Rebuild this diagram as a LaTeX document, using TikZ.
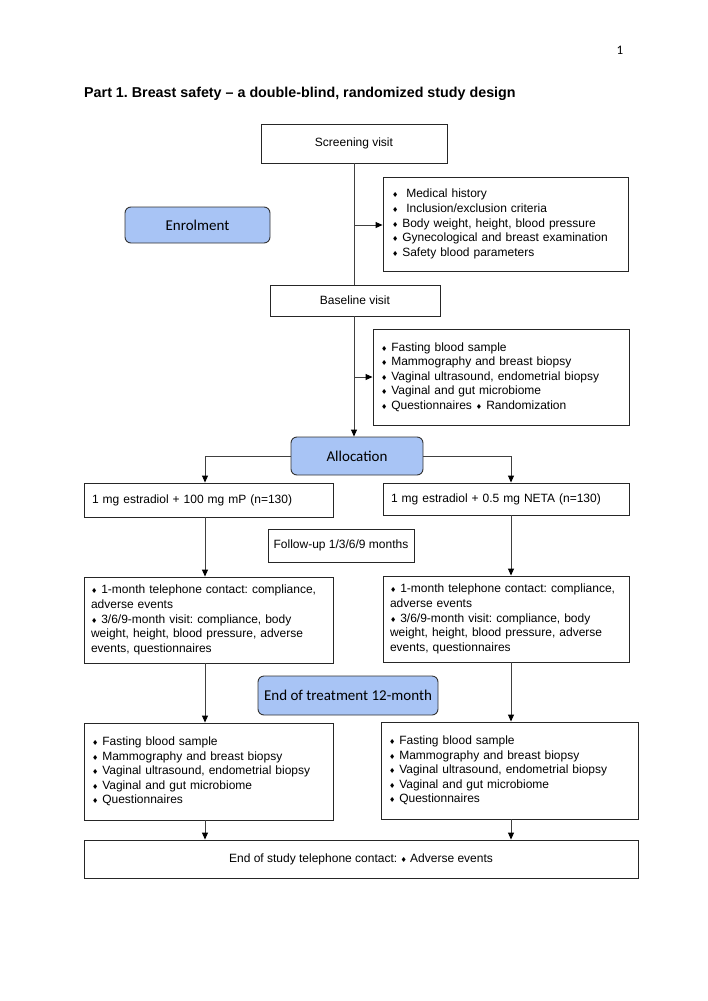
\documentclass[tikz,border=0pt]{standalone}
\usepackage{fontspec}
\setmainfont{Liberation Sans}
\newfontfamily\calib{Carlito}
\newfontfamily\djv{DejaVu Sans}
\usetikzlibrary{arrows.meta,calc}
\frenchspacing
\newcommand{\bul}{{\djv\fontsize{7}{7}\selectfont ♦}}
\definecolor{lblue}{RGB}{168,196,245}
\tikzset{
  box/.style={draw=black!85, line width=0.9pt, rectangle, inner sep=0pt, font=\fontsize{12}{14.6}\selectfont},
  lbl/.style={draw=black!80, line width=0.9pt, fill=lblue, rounded corners=6pt, inner sep=0pt, font=\calib\fontsize{15}{18}\selectfont},
  conn/.style={draw=black!75, line width=0.9pt},
  arr/.style={conn, -{Triangle[length=7pt,width=6pt,color=black]}}
}
\begin{document}
\begin{tikzpicture}[x=1pt,y=-1pt]
\useasboundingbox (0,0) rectangle (708,1001);
\node (pg) at (620,50) {\calib\fontsize{13}{15}\selectfont 1};
\node[anchor=west, inner sep=0pt, font=\bfseries\fontsize{14.3}{17}\selectfont] (title) at (84,94) {Part 1. Breast safety – a double-blind, randomized study design};

\node[box, minimum width=186pt, minimum height=39pt] (screen) at (354,143.5) {Screening visit};
\node[box, minimum width=245pt, minimum height=94pt, text width=227pt, align=left] (med) at (505.5,224) {\bul\ \ Medical history\\ \bul\ \ Inclusion/exclusion criteria\\ \bul\ Body weight, height, blood pressure\\ \bul\ Gynecological and breast examination\\ \bul\ Safety blood parameters};
\node[lbl, minimum width=145pt, minimum height=36pt] (enrol) at (197.5,225) {Enrolment};
\node[box, minimum width=170pt, minimum height=31pt] (base) at (355,300.5) {Baseline visit};
\node[box, minimum width=256pt, minimum height=96pt, text width=240pt, align=left] (fast1) at (501,377) {\bul\ Fasting blood sample\\ \bul\ Mammography and breast biopsy\\ \bul\ Vaginal ultrasound, endometrial biopsy\\ \bul\ Vaginal and gut microbiome\\ \bul\ Questionnaires \bul\ Randomization};
\node[lbl, minimum width=132pt, minimum height=38pt] (alloc) at (357,456) {Allocation};
\node[box, minimum width=249pt, minimum height=34pt, text width=233pt, align=left] (armL) at (208.5,500) {1 mg estradiol + 100 mg mP (n=130)};
\node[box, minimum width=246pt, minimum height=32pt, text width=230pt, align=left] (armR) at (506,499) {1 mg estradiol + 0.5 mg NETA (n=130)};
\node[box, minimum width=146pt, minimum height=33pt] (follow) at (341,545.5) {Follow-up 1/3/6/9 months};
\node[box, minimum width=249pt, minimum height=86pt, text width=235pt, align=left] (fuL) at (208.5,620) {\bul\ 1-month telephone contact: compliance, adverse events\\ \bul\ 3/6/9-month visit: compliance, body weight, height, blood pressure, adverse events, questionnaires};
\node[box, minimum width=246pt, minimum height=86pt, text width=232pt, align=left] (fuR) at (506,619) {\bul\ 1-month telephone contact: compliance, adverse events\\ \bul\ 3/6/9-month visit: compliance, body weight, height, blood pressure, adverse events, questionnaires};
\node[lbl, minimum width=180pt, minimum height=39pt] (eot) at (348,695.5) {End of treatment 12-month};
\node[box, minimum width=249pt, minimum height=97pt, text width=233pt, align=left] (finL) at (208.5,771.5) {\bul\ Fasting blood sample\\ \bul\ Mammography and breast biopsy\\ \bul\ Vaginal ultrasound, endometrial biopsy\\ \bul\ Vaginal and gut microbiome\\ \bul\ Questionnaires};
\node[box, minimum width=257pt, minimum height=97pt, text width=241pt, align=left] (finR) at (509.5,770.5) {\bul\ Fasting blood sample\\ \bul\ Mammography and breast biopsy\\ \bul\ Vaginal ultrasound, endometrial biopsy\\ \bul\ Vaginal and gut microbiome\\ \bul\ Questionnaires};
\node[box, minimum width=554pt, minimum height=38pt] (endst) at (361,859) {End of study telephone contact: \bul\ Adverse events};

\coordinate (a1) at (354,225);
\coordinate (a2) at (354,377);
\coordinate (xl) at (205,0);
\coordinate (xr) at (511,0);

\draw[conn] (354,0 |- screen.south) -- (354,0 |- base.north);
\draw[arr] (a1) -- (a1 -| med.west);
\draw[arr] (354,0 |- base.south) -- (354,0 |- alloc.north);
\draw[arr] (a2) -- (a2 -| fast1.west);
\draw[arr] (alloc.west) -| (xl |- armL.north);
\draw[arr] (alloc.east) -| (xr |- armR.north);
\draw[arr] (xl |- armL.south) -- (xl |- fuL.north);
\draw[arr] (xr |- armR.south) -- (xr |- fuR.north);
\draw[arr] (xl |- fuL.south) -- (xl |- finL.north);
\draw[arr] (xr |- fuR.south) -- (xr |- finR.north);
\draw[arr] (xl |- finL.south) -- (xl |- endst.north);
\draw[arr] (xr |- finR.south) -- (xr |- endst.north);
\end{tikzpicture}
\end{document}
